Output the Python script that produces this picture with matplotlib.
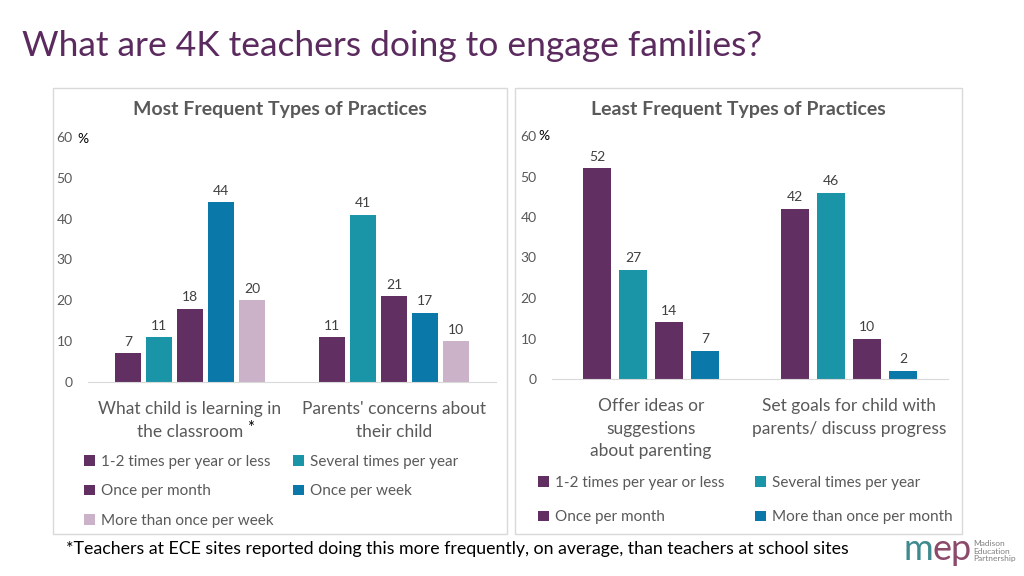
import matplotlib
matplotlib.use("Agg")
import matplotlib.pyplot as plt
from matplotlib.patches import Rectangle

plt.rcParams['font.family'] = ['Lato', 'DejaVu Sans']

# data - most frequent
most_cats = ["What child is learning in\nthe classroom", "Parents' concerns about\ntheir child"]
most_series = ["1-2 times per year or less", "Several times per year", "Once per month",
               "Once per week", "More than once per week"]
most_vals = [[7, 11], [11, 41], [18, 21], [44, 17], [20, 10]]

# data - least frequent
least_cats = ["Offer ideas or\nsuggestions\nabout parenting", "Set goals for child with\nparents/ discuss progress"]
least_series = ["1-2 times per year or less", "Several times per year", "Once per month",
                "More than once per month"]
least_vals = [[52, 42], [27, 46], [14, 10], [7, 2]]

yticks = [0, 10, 20, 30, 40, 50, 60]

purple = '#622F63'
teal = '#1A94A7'
blue = '#0A78A8'
mauve = '#CBB2C9'
grey = '#595959'
most_colors = [purple, teal, purple, blue, mauve]
least_colors = [purple, teal, purple, blue]

W, H = 1024, 576
fig = plt.figure(figsize=(10.24, 5.76), dpi=100)


def fx(px):
    return px / W


def fy(py):
    return 1 - py / H


# title
fig.text(fx(22), fy(46), "What are 4K teachers doing to engage families?", fontsize=25.5,
         color='#5B2A5E', va='center', ha='left')

# panel boxes
for x0, x1 in [(53, 507), (515, 962)]:
    fig.patches.append(Rectangle((fx(x0), fy(534)), fx(x1 - x0), (534 - 88) / H,
                                 transform=fig.transFigure, fill=False,
                                 edgecolor='#D9D9D9', linewidth=1))


def draw_panel(rect, cats, series, vals, colors, width, step, title, title_x, pct_x, pct_y):
    ax = fig.add_axes(rect)
    n = len(series)
    bars = []
    for i in range(n):
        xs = [j + (i - (n - 1) / 2) * step for j in range(len(cats))]
        b = ax.bar(xs, vals[i], width=width, color=colors[i], label=series[i])
        ax.bar_label(b, padding=4, fontsize=10, color='#404040')
        bars.append(b)
    ax.set_xlim(-0.5, len(cats) - 0.5)
    ax.set_ylim(0, 60)
    ax.set_yticks(yticks)
    ax.tick_params(axis='y', length=0, pad=11, labelsize=10, labelcolor=grey)
    ax.set_xticks(range(len(cats)))
    ax.set_xticklabels(cats, fontsize=12.5, color=grey, linespacing=1.5)
    ax.tick_params(axis='x', length=0, pad=14)
    for s in ['top', 'right', 'left']:
        ax.spines[s].set_visible(False)
    ax.spines['bottom'].set_color('#D9D9D9')
    ax.set_facecolor('none')
    fig.text(fx(title_x), fy(110), title, fontsize=14, fontweight='bold', color=grey,
             ha='center', va='center')
    fig.text(fx(pct_x), fy(pct_y), "%", fontsize=10, color='black', ha='center', va='center')
    return ax, bars


axL, barsL = draw_panel([fx(88), fy(382), fx(408), (382 - 137) / H], most_cats, most_series,
                        most_vals, most_colors, 0.123, 0.152,
                        "Most Frequent Types of Practices", 280, 83, 139)
axR, barsR = draw_panel([fx(552), fy(379), fx(396), (379 - 136) / H], least_cats, least_series,
                        least_vals, least_colors, 0.141, 0.182,
                        "Least Frequent Types of Practices", 738, 544, 136)

# legends (column order for ncol=2)
hl = [barsL[k] for k in [0, 2, 4, 1, 3]]
ll = [most_series[k] for k in [0, 2, 4, 1, 3]]
fig.legend(hl, ll, loc='upper left', bbox_to_anchor=(fx(78), fy(449)), ncol=2, frameon=False,
           fontsize=11, labelcolor=grey, handlelength=0.7, handleheight=0.7,
           handletextpad=0.4, columnspacing=1.3, labelspacing=1.0, borderaxespad=0)

hr = [barsR[k] for k in [0, 2, 1, 3]]
lr = [least_series[k] for k in [0, 2, 1, 3]]
fig.legend(hr, lr, loc='upper left', bbox_to_anchor=(fx(532), fy(470)), ncol=2, frameon=False,
           fontsize=11, labelcolor=grey, handlelength=0.7, handleheight=0.7,
           handletextpad=0.4, columnspacing=2.0, labelspacing=1.33, borderaxespad=0)

# asterisk
fig.text(fx(247), fy(433), "*", fontsize=12, color='black', ha='left', va='baseline')

# footnote
fig.text(fx(66), fy(549), "*Teachers at ECE sites reported doing this more frequently, on average, "
         "than teachers at school sites", fontsize=12.8, color='black', ha='left', va='center')

# logo
fig.text(fx(903), fy(550), "m", fontsize=26, color='#3E8A8E', ha='left', va='center')
fig.text(fx(933), fy(550), "ep", fontsize=26, color='#8C4A6B', ha='left', va='center')
fig.text(fx(973), fy(551), "Madison\nEducation\nPartnership", fontsize=6, color='#7F7F7F',
         ha='left', va='center', linespacing=1.0)

fig.savefig("out.png", dpi=100)
